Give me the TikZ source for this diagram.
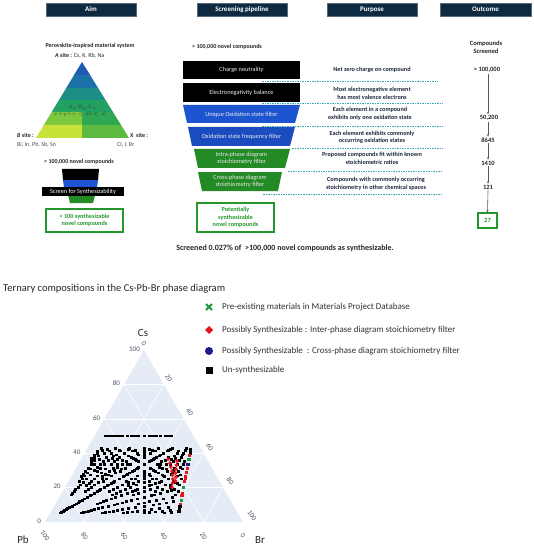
\documentclass[tikz,border=0pt]{standalone}
\usepackage{fontspec}
\setmainfont{Carlito}
\usetikzlibrary{arrows.meta}
\definecolor{hdr}{HTML}{0E2A40}
\definecolor{fblue}{HTML}{1D55D0}
\definecolor{fblueb}{HTML}{1A4CC0}
\definecolor{fgreen}{HTML}{238A26}
\definecolor{tgreen}{HTML}{23962C}
\definecolor{navytxt}{HTML}{1B2740}
\definecolor{teal}{HTML}{3AAAB4}
\definecolor{tbg}{HTML}{E5ECF6}
\definecolor{tick}{HTML}{4A5668}
\definecolor{mred}{HTML}{E8141C}
\definecolor{mgreen}{HTML}{1A9A3A}
\definecolor{mblue}{HTML}{1A1A8C}
\definecolor{bA}{HTML}{1D5AB2}
\definecolor{bB}{HTML}{1A72A8}
\definecolor{bC}{HTML}{1C8E86}
\definecolor{bD}{HTML}{22A262}
\definecolor{bEL}{HTML}{7CC83E}
\definecolor{bER}{HTML}{2EA852}
\definecolor{bFL}{HTML}{C8E23A}
\definecolor{bFR}{HTML}{5CBA40}
\newcommand\fs[1]{\fontsize{#1}{#1}\selectfont}
\tikzset{
  hdrbox/.style={fill=hdr, draw=hdr!70!white, text=white, font=\bfseries\fs{7}, minimum width=90pt, minimum height=13pt, inner sep=0pt},
  boxtxt/.style={text=white!92!black, font=\fs{6.3}, align=center, inner sep=0pt},
  purp/.style={text=navytxt, font=\bfseries\fs{6.2}, align=center, inner sep=0pt},
  outc/.style={text=black!85, font=\bfseries\fs{6.5}, align=center, inner sep=1pt},
  gbox/.style={draw=tgreen, line width=1.1pt, text=tgreen, font=\bfseries\fs{6.2}, align=center, inner sep=0pt},
  sep/.style={teal, dashed, dash pattern=on 1.5pt off 1pt, line width=0.6pt},
  oarrow/.style={black!65, line width=0.6pt, -{Stealth[length=2.5pt,width=2.2pt]}},
  ticklab/.style={text=tick, font=\fs{7}, inner sep=0pt},
  legtxt/.style={text=black!80, font=\fs{9}, anchor=west, inner sep=0pt},
  lbl/.style={text=black!85, font=\fs{6}, inner sep=0pt}
}
\begin{document}
\begin{tikzpicture}[x=1pt,y=-1pt]
\useasboundingbox[fill=white] (0,0) rectangle (534,548);
% headers
\node[hdrbox] (hAim) at (91,9.5) {Aim};
\node[hdrbox] (hPipe) at (242,9.5) {Screening pipeline};
\node[hdrbox] (hPurp) at (372,9.5) {Purpose};
\node[hdrbox, minimum width=91pt] (hOut) at (485.5,9.5) {Outcome};
% ---------------- Aim column
\node[lbl, font=\bfseries\fs{6}] (pis) at (90,46) {Perovskite-inspired material system};
\node[lbl, anchor=west] (asite) at (55,56) {\textbf{\textit{A} site :} Cs, K, Rb, Na};
% coloured triangle as solid bands
\fill[bA] (82,62) -- (90.3,75.3) -- (73.8,75.3) -- cycle;
\fill[bB] (74.1,75) -- (90,75) -- (98.3,88.3) -- (66.1,88.3) -- cycle;
\fill[bC] (66.3,88) -- (98.1,88) -- (105.7,100.3) -- (58.8,100.3) -- cycle;
\fill[bD] (59,100) -- (105.5,100) -- (113.1,112.3) -- (51.5,112.3) -- cycle;
\fill[bEL] (51.7,112) -- (82.3,112) -- (82.3,125.3) -- (43.7,125.3) -- cycle;
\fill[bER] (82,112) -- (112.9,112) -- (121.2,125.3) -- (82,125.3) -- cycle;
\fill[bFL] (43.9,125) -- (82.3,125) -- (82.3,138) -- (36,138) -- cycle;
\fill[bFR] (82,125) -- (121,125) -- (129,138) -- (82,138) -- cycle;
\node[text=black!75, font=\fs{5.5}, inner sep=0pt] (form) at (82,108) {$A_xB_yX_z$};
\node[text=black!75, font=\fs{5}, inner sep=0pt] (cond) at (80,114) {$x{+}y{+}z<20\in Z$};
\node[lbl, anchor=west] (bsite) at (17,135.5) {\textbf{\textit{B} site :}};
\node[lbl, anchor=west, text=black!70] (bel) at (17,145) {Bi, In, Pb, Sb, Sn};
\node[lbl, anchor=west] (xsite) at (130,135.5) {\textbf{X \ site :}};
\node[lbl, anchor=west, text=black!70] (xel) at (117,145) {Cl, I, Br};
\node[lbl, font=\bfseries\fs{6}] (aimN) at (79,162) {> 100,000 novel compounds};
\fill[black] (62,169) -- (99,169) -- (98,180) -- (63,180) -- cycle;
\fill[fblue] (63,180) -- (98,180) -- (97,188) -- (64,188) -- cycle;
\fill[fgreen] (68,195) -- (95,195) -- (93,203) -- (70,203) -- cycle;
\node[fill=black, text=white, font=\fs{6.2}, inner sep=0pt, minimum width=82pt, minimum height=9pt] (scr) at (83,191.5) {Screen for Synthesizability};
\node[gbox, minimum width=77pt, minimum height=23pt] (aimOut) at (84.5,220.5) {< 100 synthesizable\\[1pt]novel compounds};
% ---------------- Screening pipeline
\node[lbl, font=\bfseries\fs{6}, anchor=west] (pipeN) at (192,47) {> 100,000 novel compounds};
\fill[black] (183,61) rectangle (300,79);
\node[boxtxt] (f1) at (241.5,70) {Charge neutrality};
\fill[black] (183,83) rectangle (300,102);
\node[boxtxt] (f2) at (241.5,92.5) {Electronegativity balance};
\fill[fblue] (183,105) -- (300,105) -- (295,123) -- (187,123) -- cycle;
\node[boxtxt] (f3) at (241.5,114.5) {Unique Oxidation state filter};
\fill[fblueb] (188,127) -- (295,127) -- (290,146) -- (192,146) -- cycle;
\node[boxtxt] (f4) at (241.5,136.5) {Oxidation state frequency filter};
\fill[fgreen] (194,149) -- (290,149) -- (285,168) -- (198,168) -- cycle;
\node[boxtxt] (f5) at (241.5,158.5) {Intra-phase diagram\\[1.2pt]stoichiometry filter};
\fill[fgreen] (198,172) -- (282,172) -- (278,191) -- (202,191) -- cycle;
\node[boxtxt] (f6) at (240,181.5) {Cross-phase diagram\\[1.2pt]stoichiometry filter};
\node[gbox, minimum width=77pt, minimum height=29pt] (pipeOut) at (235.5,217.5) {Potentially\\[1pt]synthesizable\\[1pt]novel compounds};
% ---------------- Purpose
\node[purp] (p1) at (372,70) {Net zero charge on compound};
\node[purp] (p2) at (372,93) {Most electronegative element\\[1.5pt]has most valence electrons};
\node[purp] (p3) at (370,113.5) {Each element in a compound\\[1.5pt]exhibits only one oxidation  state};
\node[purp] (p4) at (372,137.5) {Each element exhibits commonly\\[1.5pt]occurring oxidation  states};
\node[purp] (p5) at (372,158.5) {Proposed compounds  fit within known\\[1.5pt]stoichiometric ratios};
\node[purp] (p6) at (376,183.5) {Compounds with commonly occurring\\[1.5pt]stoichiometry in other chemical spaces};
\draw[sep] (262,81) -- (438,81);
\draw[sep] (262,103) -- (443,103);
\draw[sep] (262,126) -- (443,126);
\draw[sep] (292,148) -- (443,148);
\draw[sep] (288,171) -- (443,171);
\draw[sep] (263,194) -- (443,194);
% ---------------- Outcome
\node[outc] (oc) at (486,47.5) {Compounds\\[1.5pt]Screened};
\node[outc] (o0) at (487,70) {> 100,000};
\node[outc] (o1) at (489,118) {50,200};
\node[outc] (o2) at (488,140) {8645};
\node[outc] (o3) at (488,163) {1410};
\node[outc] (o4) at (488,187) {121};
\node[outc, draw=tgreen, line width=1.1pt, text=tgreen, minimum width=19pt, minimum height=15pt, inner sep=0pt] (o5) at (487.5,220.5) {27};
\draw[oarrow] (o0.south -| o2) -- (o1.north -| o2);
\draw[oarrow] (o1.south -| o2) -- (o2.north);
\draw[oarrow] (o2.south) -- (o3.north);
\draw[oarrow] (o3.south) -- (o4.north);
\draw[oarrow] (o4.south) -- (o5.north);
% sentence
\node[font=\bfseries\fs{8}, text=black!85, inner sep=0pt] (sent) at (285,248) {Screened 0.027\% of \ >100,000 novel compounds as synthesizable.};
% ---------------- Ternary
\node[font=\fs{10.5}, text=black!85, anchor=west, inner sep=0pt] (ttl) at (3,289) {Ternary compositions in the Cs-Pb-Br phase diagram};
\fill[tbg] (144,350) -- (243,522) -- (45,522) -- cycle;
\foreach \k in {1,2,3,4}{
  \pgfmathsetmacro\kk{\k/5}
  \draw[white, line width=0.6pt] ({45+99*\kk},{522-172*\kk}) -- ({45+198*(1-\kk/2)},{522-172*\kk});
  \draw[white, line width=0.6pt] ({45+198*\kk},522) -- ({45+99*(1+\kk)},{350+172*\kk});
  \draw[white, line width=0.6pt] ({45+198*(1-\kk)},522) -- ({45+99*(1-\kk)},{522-172*(1-\kk)});
}
% black points
\foreach \ia in {1,...,8}{
 \foreach \ib in {1,...,17}{
  \foreach \ic in {1,...,17}{
   \pgfmathtruncatemacro\n{\ia+\ib+\ic}
   \pgfmathtruncatemacro\ok{and(and(\n<20, 4*\ia<3*(\ib+\ic)+1), and(\ic<\ia+2*\ib, or(mod(\ia+\ic,2)==0, and(\ia>2,\n<18))))}
   \ifnum\ok=1
     \fill[black] ({45+198*(\ic+\ia/2)/\n-1.5},{522-172*\ia/\n-1.3}) rectangle ++(3,2.6);
   \fi
}}}
\foreach \ia in {2,...,9}{
 \foreach \ic in {1,...,8}{
   \pgfmathtruncatemacro\ok{and(\ic<\ia, 100*\ic<39*2*\ia)}
   \ifnum\ok=1
     \fill[black] ({45+198*(\ic/(2*\ia)+0.25)-1.5},{436-1.3}) rectangle ++(3,2.6);
   \fi
}}
% main line (Pb2+) points: a,b,colour
\foreach \ia/\ib/\col in {8/1/black,7/1/black,6/1/black,1/3/black,1/4/black,1/5/black,5/1/mred,5/2/mred,4/2/mred,5/3/mred,3/2/mred,4/3/mred,3/4/mred,2/3/mred,2/5/mred,4/1/mgreen,3/1/mblue,1/1/mgreen,1/2/mgreen}{
  \pgfmathsetmacro\n{2*\ia+3*\ib}
  \pgfmathsetmacro\px{45+198*(\ia+2*\ib+\ia/2)/\n}
  \pgfmathsetmacro\py{522-172*\ia/\n}
  \fill[\col] (\px-1.6,\py-1.4) rectangle ++(3.2,2.8);
}
% extra red lines
\foreach \px/\py in {168/459,170/463,171/467,172/471,172.5/475,173/479,172.5/483,172/487,177/461,176.5/465,176/469,175.5/473,176/477,175.5/481}{
  \fill[mred] (\px,\py-2) -- (\px+2,\py) -- (\px,\py+2) -- (\px-2,\py) -- cycle;
}
% tick labels Cs (left edge)
\foreach \k/\t in {0/0,1/20,2/40,3/60,4/80,5/100}{
  \node[ticklab, anchor=east] (tl\k) at ({45+99*\k/5-4},{522-172*\k/5-1}) {\t};
}
% Br (right edge)
\foreach \k/\t/\dx in {0/0/0,1/20/5,2/40/6,3/60/6.5,4/80/7,5/100/9}{
  \node[ticklab, rotate=-55] (tr\k) at ({45+99*(1+\k/5)+\dx},{350+172*\k/5-6.5}) {\t};
}
% Pb (bottom)
\foreach \k/\t in {0/100,1/80,2/60,3/40,4/20,5/0}{
  \node[ticklab, rotate=-55] (tb\k) at ({45+198*\k/5},536) {\t};
}
\node[font=\fs{11}, text=black!85, inner sep=0pt] (lCs) at (143,333) {Cs};
\node[font=\fs{11}, text=black!85, inner sep=0pt] (lPb) at (23,540) {Pb};
\node[font=\fs{11}, text=black!85, inner sep=0pt] (lBr) at (260,540) {Br};
% legend
\draw[mgreen, line width=2pt] (206,304) -- (212,310) (206,310) -- (212,304);
\node[legtxt] (lg1) at (222,307) {Pre-existing materials in Materials Project Database};
\fill[mred] (209,326) -- (213,330) -- (209,334) -- (205,330) -- cycle;
\node[legtxt] (lg2) at (222,330) {Possibly Synthesizable : Inter-phase diagram stoichiometry filter};
\fill[mblue] (209,351) circle (4);
\node[legtxt] (lg3) at (222,351) {Possibly Synthesizable \ : Cross-phase diagram stoichiometry filter};
\fill[black] (205.5,366.5) rectangle (212.5,373.5);
\node[legtxt] (lg4) at (222,370) {Un-synthesizable};
\end{tikzpicture}
\end{document}
